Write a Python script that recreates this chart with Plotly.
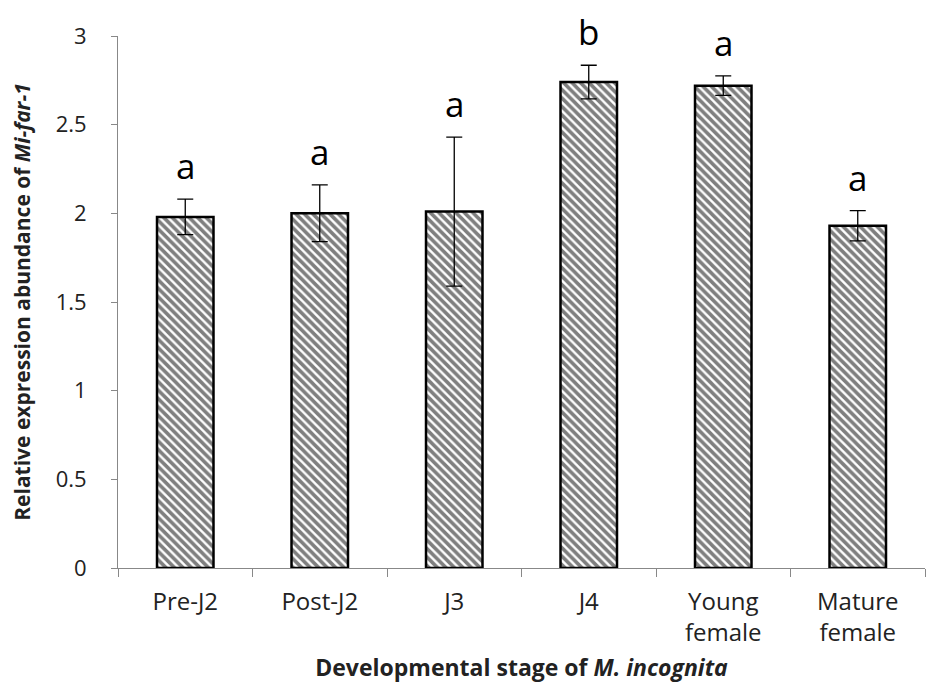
import plotly.graph_objects as go

categories = ["Pre-J2", "Post-J2", "J3", "J4", "Young<br>female", "Mature<br>female"]
values = [1.98, 2.00, 2.01, 2.74, 2.72, 1.93]
errors = [0.10, 0.16, 0.42, 0.095, 0.055, 0.085]
letters = ["a", "a", "a", "b", "a", "a"]

FONT = "Open Sans"

fig = go.Figure()
fig.add_trace(go.Bar(
    x=categories, y=values,
    width=0.42,
    marker=dict(color="white", line=dict(color="black", width=2.5),
                pattern=dict(shape="\\", fgcolor="black", bgcolor="white", size=6, solidity=0.6)),
    error_y=dict(type="data", array=errors, visible=True, color="black", thickness=1.3, width=8),
    showlegend=False,
))

for c, v, e, t in zip(categories, values, errors, letters):
    fig.add_annotation(x=c, y=v + e, text=t, showarrow=False, yanchor="bottom", yshift=8,
                       font=dict(family=FONT, size=35, color="black"))

fig.update_layout(
    width=935, height=696,
    margin=dict(l=110, r=18, t=28, b=136, autoexpand=False),
    plot_bgcolor="white", paper_bgcolor="white",
    font=dict(family=FONT, color="#222"),
    xaxis=dict(showline=True, linecolor="#888", linewidth=1, ticks="outside", tickson="boundaries",
               ticklen=8, tickcolor="#888", tickfont=dict(size=24, family=FONT), automargin=False,
               ticklabelstandoff=12,
               title=dict(text="<b>Developmental stage of <i>M. incognita</i></b>", font=dict(size=23, family=FONT), standoff=12)),
    yaxis=dict(range=[0, 3], dtick=0.5, showline=True, linecolor="#888", linewidth=1, ticks="outside",
               ticklen=6, tickcolor="#888", showgrid=False, zeroline=False, tickfont=dict(size=22, family=FONT),
               automargin=False, ticklabelstandoff=20,
               title=dict(text="<b>Relative expression abundance of <i>Mi-far-1</i></b>", font=dict(size=21, family=FONT), standoff=22)),
    bargap=0.58,
)

fig.write_html("out.html")
